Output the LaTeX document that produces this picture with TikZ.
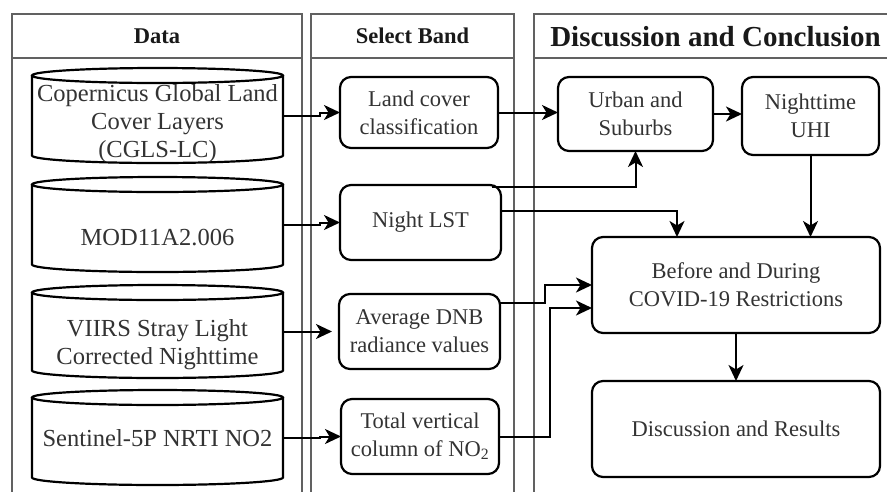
\documentclass[tikz,border=0pt]{standalone}
\usepackage{fontspec}
\setmainfont{Liberation Serif}
\usetikzlibrary{arrows.meta}
\begin{document}
\begin{tikzpicture}[x=1pt,y=-1pt,
  lane/.style={draw=black!62, line width=1.5pt},
  head/.style={font=\bfseries\fontsize{22.5}{27}\selectfont, text=black!90, inner sep=0},
  bighead/.style={font=\bfseries\fontsize{29}{33}\selectfont, text=black!90, inner sep=0},
  box/.style={draw, line width=2.2pt, rounded corners=11pt, align=center, inner sep=0, outer sep=0,
    font=\fontsize{22.5}{28}\selectfont, text=black!80},
  dbbody/.style={minimum width=251pt, inner sep=0, outer sep=0},
  dbtext/.style={align=center, inner sep=0, font=\fontsize{24.5}{28}\selectfont, text=black!80},
  cyl/.style={line width=2.2pt},
  conn/.style={line width=2pt, -{Stealth[length=16pt,width=15pt,inset=4.5pt]}}
]
\useasboundingbox (0,0) rectangle (887,491);
\fill[white] (0,0) rectangle (887,491);

% swimlanes
\draw[lane] (12,500) -- (12,14) -- (302,14) -- (302,500);
\draw[lane] (12,58) -- (302,58);
\draw[lane] (311,500) -- (311,14) -- (514,14) -- (514,500);
\draw[lane] (311,58) -- (514,58);
\draw[lane] (534,500) -- (534,14) -- (900,14);
\draw[lane] (534,58) -- (900,58);
\node[head] (hdata) at (157,36) {Data};
\node[head] (hsel) at (412.5,36) {Select Band};
\node[bighead] (hdis) at (715.5,37) {Discussion and Conclusion};

% cylinders
\newcommand\drawcyl[1]{%
  \draw[cyl] (#1.north west) -- (#1.south west)
     arc[start angle=180,end angle=360,x radius=125.5pt,y radius=7.5pt] -- (#1.north east);
  \draw[cyl] (#1.north) ellipse[x radius=125.5pt, y radius=7.5pt];}
\node[dbbody, minimum height=80pt] (c1) at (157.5,115.5) {};
\node[dbbody, minimum height=80pt] (c2) at (157.5,224.5) {};
\node[dbbody, minimum height=78pt] (c3) at (157.5,331.5) {};
\node[dbbody, minimum height=80pt] (c4) at (157.5,437.5) {};
\drawcyl{c1}\drawcyl{c2}\drawcyl{c3}\drawcyl{c4}
\node[dbtext] (t1) at (157.5,124) {Copernicus Global Land\\Cover Layers\\(CGLS-LC)};
\node[dbtext] (t2) at (157.5,238) {MOD11A2.006};
\node[dbtext] (t3) at (157.5,345) {VIIRS Stray Light\\Corrected Nighttime};
\node[dbtext] (t4) at (157.5,438) {Sentinel-5P NRTI NO2};

% select band boxes
\node[box, minimum width=158pt, minimum height=71pt] (lc) at (419,112.5) {Land cover\\classification};
\node[box, minimum width=161pt, minimum height=75pt] (nl) at (420.5,222.5) {Night LST};
\node[box, minimum width=161pt, minimum height=75pt] (dnb) at (419.5,331.5) {Average DNB\\radiance values};
\node[box, minimum width=158pt, minimum height=75pt] (tv) at (420,436.5) {Total vertical\\column of NO\textsubscript{2}};

% discussion boxes
\node[box, minimum width=155pt, minimum height=74pt] (ur) at (635.5,114) {Urban and\\Suburbs};
\node[box, minimum width=137pt, minimum height=78pt] (uhi) at (810.5,116) {Nighttime\\UHI};
\node[box, minimum width=288pt, minimum height=96pt] (bd) at (736,285) {Before and During\\COVID-19 Restrictions};
\node[box, minimum width=288pt, minimum height=96pt] (res) at (736,429) {Discussion and Results};

% connectors
\draw[conn] (c1.east) -- ++(37,0) |- (lc.west);
\draw[conn] (c2.east) -- ++(37,0) |- (nl.west);
\draw[conn, shorten >=7pt] (c3.east) -- (dnb.west);
\draw[conn] (c4.east) -- ++(37,0) |- (tv.west);
\draw[conn] (lc.east) -- (lc.east -| ur.west);
\draw[conn] (ur.east) -- (ur.east -| uhi.west);
\draw[conn] ([xshift=-9pt,yshift=-2pt]nl.north east) -| (ur.south);
\draw[conn] ([yshift=11.5pt]nl.east) -| ([xshift=-59pt]bd.north);
\draw[conn] (uhi.south) -- (uhi.south |- bd.north);
\draw[conn] ([yshift=28.5pt]dnb.east) -- ++(45,0) |- (bd.west);
\draw[conn] (tv.east) -- ++(51,0) |- ([yshift=-23pt]bd.west);
\draw[conn] (bd.south) -- (res.north);
\end{tikzpicture}
\end{document}
